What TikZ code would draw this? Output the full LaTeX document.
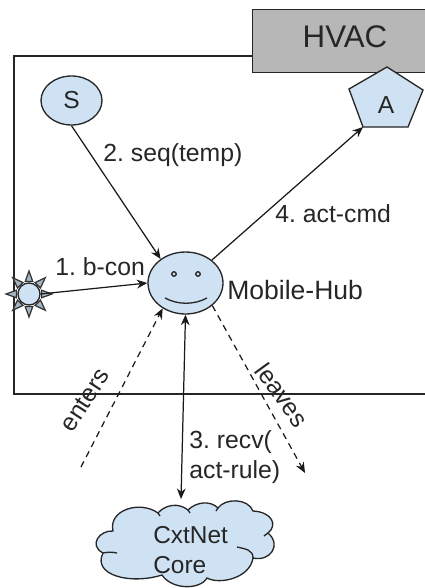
\documentclass[tikz,border=0pt]{standalone}
\usepackage{fontspec}
\setmainfont{Liberation Sans}
\usetikzlibrary{arrows.meta,shapes.geometric}
\frenchspacing
\definecolor{lightfill}{HTML}{CFE2F3}
\definecolor{hvacgray}{HTML}{B7B7B7}
\definecolor{inkgray}{HTML}{262626}
\tikzset{
	every node/.style={text=inkgray},
	outline/.style={draw=black!85, line width=0.75pt},
	conn/.style={black!90, line width=0.7pt, -{Stealth[length=6pt,width=5pt]}},
	dashconn/.style={conn, dash pattern=on 3.6pt off 2.8pt},
	lbl/.style={font=\fontsize{14.1}{16}\selectfont, inner sep=0pt, anchor=west},
	blob/.style={outline, fill=lightfill, ellipse, inner sep=0pt},
	eye/.style={outline, fill=lightfill, circle, minimum size=0.09cm, inner sep=0pt}
}

\begin{document}
\begin{tikzpicture}[x=0.02cm, y=-0.02cm]
				\useasboundingbox (0,0) rectangle (425,588);
				
				\draw[black!85, line width=0.7pt] (252,56) -- (14,56) -- (14,394) -- (425,394);
				
				\node[outline, fill=hvacgray, minimum width=3.7cm, minimum height=1.26cm, anchor=north west, inner sep=0pt] (hvacbox) at (252,9) {};
				\node[inner sep=0pt, font=\fontsize{17.8}{20}\selectfont] (hvaclabel) at (345,37) {HVAC};
				
				\draw[outline, fill=lightfill] (387,67) -- (423,90) -- (408,127) -- (363,127) -- (349,89) -- cycle;
				\coordinate (actcorner) at (363,127);
				\node[font=\fontsize{14}{16}\selectfont, inner sep=0pt] (actuator) at (386,105) {A};
				
				\node[blob, minimum width=1.22cm, minimum height=0.98cm, font=\fontsize{14}{16}\selectfont] (sensor) at (71.5,100.5) {S};
				
				\node[blob, minimum width=1.5cm, minimum height=1.24cm] (mobilehub) at (185.5,283) {};
				\node[eye] (lefteye) at (174,274) {};
				\node[eye] (righteye) at (198,274) {};
				\draw[outline] (165,298) .. controls (178,305) and (194,305) .. (207,298);
				\node[lbl, font=\fontsize{15.1}{18}\selectfont] (hublabel) at (227,290) {Mobile-Hub};
				
				\foreach \a in {0,45,...,315}
					\draw[draw=black!80, line width=0.7pt, fill=lightfill!80!black, shift={(29,294)}] (\a-17:13) -- (\a:23) -- (\a+17:13) -- cycle;
				\node[outline, fill=lightfill, circle, minimum size=0.44cm, inner sep=0pt] (beacon) at (29,294) {};
				
				\draw[outline, fill=lightfill] (113,531) .. controls (108,510) and (140,500) .. (158,513)
					.. controls (165,505) and (178,502) .. (188,510)
					.. controls (196,502) and (210,500) .. (218,508)
					.. controls (225,498) and (248,498) .. (253,511)
					.. controls (272,512) and (278,525) .. (268,533)
					.. controls (282,545) and (270,562) .. (253,558)
					.. controls (250,578) and (220,585) .. (207,578)
					.. controls (200,590) and (172,590) .. (162,575)
					.. controls (130,585) and (92,575) .. (103,553)
					.. controls (88,545) and (100,530) .. cycle;
				\draw[outline] (103,553) .. controls (107,552) and (113,552) .. (117,553);
				\draw[outline] (253,558) .. controls (253,550) and (246,549) .. (237,547);
				\draw[outline] (268,533) -- (264,536);
				\draw[outline] (158,513) -- (160,516);
				\draw[outline] (188,510) -- (190,513);
				\draw[outline] (218,508) -- (216,511);
				\coordinate (cloudtop) at (181,499);
				\node[lbl, align=left, font=\fontsize{13.9}{17}\selectfont] (corelabel) at (153,550) {CxtNet\\Core};
				
				\coordinate (entersfrom) at (81,467);
				\coordinate (leavesto) at (305,473);
				
				\draw[conn] (sensor.south) -- (mobilehub.136);
				\draw[conn] (mobilehub.41) -- (actcorner);
				\draw[conn] (beacon.east) -- (mobilehub.west);
				\draw[conn, {Stealth[length=6pt,width=5pt]}-{Stealth[length=6pt,width=5pt]}] (mobilehub.south) -- (cloudtop);
				\draw[dashconn] (entersfrom) -- (mobilehub.228);
				\draw[dashconn] (mobilehub.-40) -- (leavesto);
				
				\node[lbl] (seqlabel) at (103,155) {2. seq(temp)};
				\node[lbl] (cmdlabel) at (275,214) {4. act-cmd};
				\node[lbl] (conlabel) at (55,267) {1. b-con};
				\node[lbl] (recvlabel) at (189,442) {3. recv(};
				\node[lbl] (rulelabel) at (189,472) {act-rule)};
				\node[lbl, anchor=center, rotate=57] (enterslabel) at (85,400) {enters};
				\node[lbl, anchor=center, rotate=-54] (leaveslabel) at (282,395) {leaves};
			\end{tikzpicture}
\end{document}
